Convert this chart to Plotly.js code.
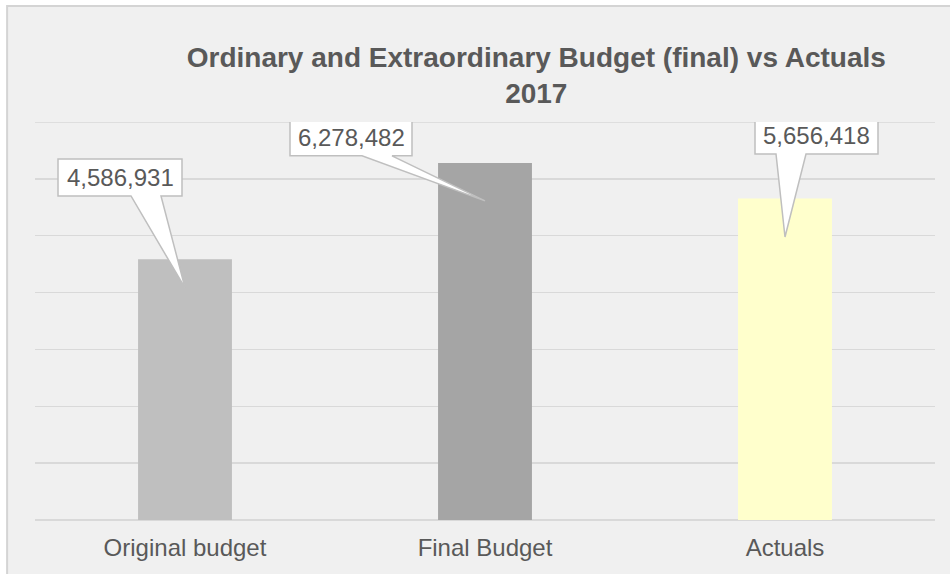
<!DOCTYPE html>
<html>
<head>
<meta charset="utf-8">
<script src="https://cdn.plot.ly/plotly-3.0.1.min.js"></script>
<style>html,body{margin:0;padding:0;background:#fff;}#chart{width:950px;height:574px;}</style>
</head>
<body>
<div id="chart"></div>
<script>
// ---- data ----
const categories = ["Original budget", "Final Budget", "Actuals"];
const values = [4586931, 6278482, 5656418];
const labels = ["4,586,931", "6,278,482", "5,656,418"];
const titleText = "Ordinary and Extraordinary Budget (final) vs Actuals<br>2017";
const yMax = 7000000;

// ---- styling ----
const barColors = ["#bfbfbf", "#a5a5a5", "#ffffcc"];
const idx = categories.map((c, i) => i);
// callout pointer position as fraction of bar value
const pointerFrac = [0.89, 0.894, 0.88];
// callout geometry in pixels relative to pointer (y up)
const callouts = [
  {L: -127, R: -3, T: 129, B: 92, w0: -54, w1: -24},
  {L: -195, R: -73, T: 82, B: 45, w0: -123, w1: -93},
  {L: -30, R: 93, T: 120, B: 83, w0: -9, w1: 21}
];

const shapes = [{
  type: "rect", xref: "paper", yref: "paper",
  x0: -0.031, x1: 1.2, y0: -0.3, y1: 1.2915,
  fillcolor: "#f0f0f0", line: {color: "#d4d4d4", width: 2}, layer: "below"
}, {
  // top gridline at the axis maximum
  type: "line", xref: "paper", yref: "y", x0: 0, x1: 1, y0: yMax, y1: yMax,
  line: {color: "#d9d9d9", width: 1.3}, layer: "below"
}];
const annotations = [];
idx.forEach(i => {
  const c = callouts[i];
  const py = values[i] * pointerFrac[i];
  shapes.push({
    type: "path", xref: "x", yref: "y",
    xsizemode: "pixel", ysizemode: "pixel",
    xanchor: idx[i], yanchor: py,
    path: `M ${c.L},${c.T} L ${c.R},${c.T} L ${c.R},${c.B} L ${c.w1},${c.B} L 0,0 L ${c.w0},${c.B} L ${c.L},${c.B} Z`,
    fillcolor: "#ffffff", line: {color: "#bfbfbf", width: 1.5}, layer: "above"
  });
  annotations.push({
    x: idx[i], y: py, xref: "x", yref: "y",
    xshift: (c.L + c.R) / 2, yshift: (c.T + c.B) / 2,
    text: labels[i], showarrow: false,
    font: {family: "Liberation Sans, Arial, sans-serif", size: 24, color: "#595959"},
    xanchor: "center", yanchor: "middle"
  });
});

const trace = {
  type: "bar", x: idx, y: values,
  marker: {color: barColors, line: {width: 0}},
  width: 0.313, hoverinfo: "none"
};

const layout = {
  width: 950, height: 574,
  margin: {l: 35, r: 15, t: 122, b: 54, pad: 0},
  paper_bgcolor: "#ffffff", plot_bgcolor: "rgba(0,0,0,0)",
  showlegend: false,
  title: {
    text: titleText, x: 0.557, xref: "paper", xanchor: "center",
    y: 0.884, yref: "container", yanchor: "top",
    font: {family: "Liberation Sans, Arial, sans-serif", size: 28, color: "#595959", weight: "bold"}
  },
  xaxis: {
    range: [-0.5, 2.5], tickvals: idx, ticktext: categories,
    showgrid: false, zeroline: false, showline: false, ticks: "",
    ticklabelstandoff: 11,
    tickfont: {family: "Liberation Sans, Arial, sans-serif", size: 24, color: "#595959"},
    fixedrange: true
  },
  yaxis: {
    range: [0, yMax], dtick: 1000000, showticklabels: false,
    showgrid: true, gridcolor: "#d9d9d9", gridwidth: 1.3,
    zeroline: true, zerolinecolor: "#d9d9d9", zerolinewidth: 1.3,
    ticks: "", fixedrange: true
  },
  shapes: shapes,
  annotations: annotations
};

Plotly.newPlot("chart", [trace], layout, {displayModeBar: false, staticPlot: true});
</script>
</body>
</html>
